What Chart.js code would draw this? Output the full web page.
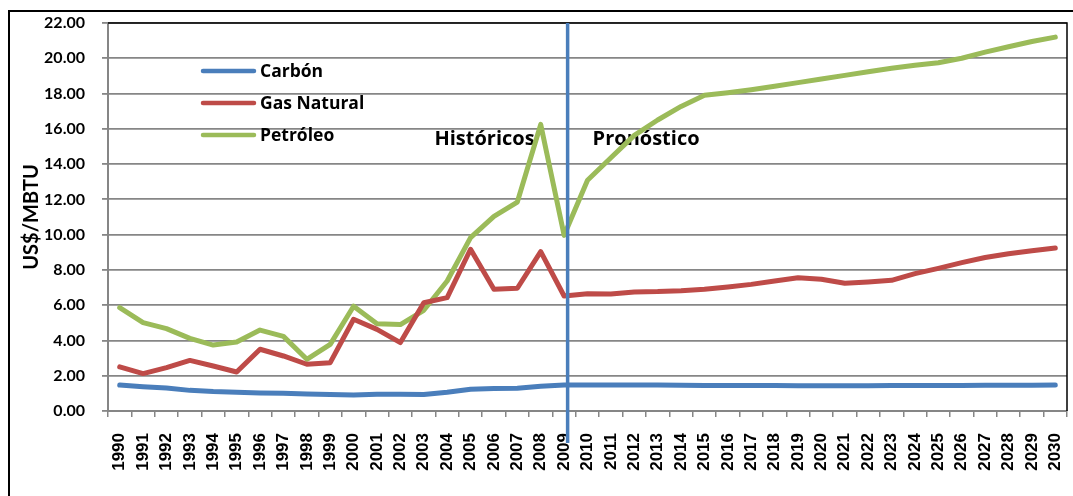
<!DOCTYPE html>
<html lang="es">
<head>
<meta charset="utf-8">
<title>Precios de energéticos US$/MBTU</title>
<script src="https://cdn.jsdelivr.net/npm/chart.js@4.4.1/dist/chart.umd.min.js"></script>
<style>
  html, body { margin: 0; padding: 0; background: #ffffff; }
  #wrap { position: relative; width: 1073px; height: 496px; overflow: hidden; }
  #frame {
    position: absolute; left: 8px; top: 10px; width: 1200px; height: 600px;
    border-top: 2px solid #000; border-left: 2px solid #000; box-sizing: border-box;
  }
  #c { position: absolute; left: 0; top: 0; }
</style>
</head>
<body>
<div id="wrap">
  <div id="frame"></div>
  <canvas id="c" width="1073" height="496"></canvas>
</div>
<script>
// Años (etiquetas del eje X)
const years = ['1990','1991','1992','1993','1994','1995','1996','1997','1998','1999',
  '2000','2001','2002','2003','2004','2005','2006','2007','2008','2009',
  '2010','2011','2012','2013','2014','2015','2016','2017','2018','2019',
  '2020','2021','2022','2023','2024','2025','2026','2027','2028','2029','2030'];

// Precios en US$/MBTU
const carbon = [1.47,1.38,1.30,1.17,1.10,1.06,1.02,1.00,0.96,0.93,
  0.91,0.95,0.95,0.93,1.06,1.23,1.27,1.29,1.40,1.47,
  1.47,1.47,1.47,1.47,1.46,1.45,1.45,1.44,1.44,1.43,
  1.43,1.43,1.43,1.44,1.45,1.45,1.45,1.46,1.46,1.46,1.47];

const gasNatural = [2.50,2.12,2.46,2.87,2.55,2.21,3.50,3.12,2.65,2.74,
  5.20,4.63,3.88,6.14,6.43,9.17,6.90,6.96,9.04,6.52,
  6.65,6.63,6.75,6.77,6.82,6.90,7.03,7.18,7.37,7.56,
  7.47,7.24,7.32,7.41,7.79,8.09,8.41,8.70,8.92,9.09,9.24];

const petroleo = [5.86,5.01,4.67,4.12,3.74,3.91,4.59,4.23,2.93,3.78,
  5.94,4.95,4.90,5.71,7.37,9.83,11.04,11.85,16.25,9.96,
  13.08,14.36,15.63,16.50,17.27,17.90,18.05,18.22,18.41,18.62,
  18.82,19.03,19.24,19.43,19.60,19.75,20.00,20.35,20.65,20.95,21.20];

const seriesNames = ['Carbón', 'Gas Natural', 'Petróleo'];
const seriesColors = ['#4a7ebb', '#be4b48', '#9bbb59'];

// Año que separa datos históricos del pronóstico
const splitYear = '2009';
const periodLabels = ['Históricos', 'Pronóstico'];

const yMax = 22;
const yStep = 2;

const gridGray = '#868686';

// Leyenda dibujada dentro del área del gráfico
const insideLegend = {
  id: 'insideLegend',
  afterDatasetsDraw(chart) {
    const ctx = chart.ctx;
    const x0 = 201, len = 55, gap = 4;
    const rows = [71, 103, 135];
    ctx.save();
    chart.data.datasets.forEach((ds, i) => {
      ctx.strokeStyle = ds.borderColor;
      ctx.lineWidth = 4.5;
      ctx.lineCap = 'round';
      ctx.beginPath();
      ctx.moveTo(x0 + 2, rows[i]);
      ctx.lineTo(x0 + len - 2, rows[i]);
      ctx.stroke();
      ctx.fillStyle = '#000';
      ctx.font = 'bold 17.5px "Open Sans"';
      ctx.textAlign = 'left';
      ctx.textBaseline = 'middle';
      ctx.fillText(ds.label, x0 + len + gap, rows[i] + 1);
    });
    ctx.restore();
  }
};

// Rótulos de periodo (debajo de las líneas)
const periodText = {
  id: 'periodText',
  beforeDatasetsDraw(chart) {
    const ctx = chart.ctx;
    const xs = chart.scales.x, ys = chart.scales.y;
    const xDiv = xs.getPixelForValue(years.indexOf(splitYear) + 0.15);
    const yBase = ys.getPixelForValue(15.1);
    ctx.save();
    ctx.fillStyle = '#000';
    ctx.font = 'bold 20px "Open Sans"';
    ctx.textBaseline = 'alphabetic';
    ctx.textAlign = 'right';
    ctx.fillText(periodLabels[0], xDiv - 33, yBase);
    ctx.textAlign = 'left';
    ctx.fillText(periodLabels[1], xDiv + 25, yBase);
    ctx.restore();
  }
};

// Línea vertical divisoria y borde superior/derecho del área de trazado
const divider = {
  id: 'divider',
  afterDatasetsDraw(chart) {
    const ctx = chart.ctx;
    const a = chart.chartArea;
    const xs = chart.scales.x;
    const xDiv = xs.getPixelForValue(years.indexOf(splitYear) + 0.15);
    ctx.save();
    ctx.strokeStyle = '#000';
    ctx.lineWidth = 1.5;
    ctx.beginPath();
    ctx.moveTo(a.left, a.top);
    ctx.lineTo(a.right, a.top);
    ctx.lineTo(a.right, a.bottom);
    ctx.stroke();
    ctx.strokeStyle = seriesColors[0];
    ctx.lineWidth = 3.5;
    ctx.beginPath();
    ctx.moveTo(xDiv, a.top);
    ctx.lineTo(xDiv, a.bottom + 32);
    ctx.stroke();
    ctx.restore();
  }
};

const lineStyle = {
  borderWidth: 5,
  pointRadius: 0,
  pointHoverRadius: 0,
  tension: 0,
  fill: false,
  borderCapStyle: 'round',
  borderJoinStyle: 'round'
};

new Chart(document.getElementById('c'), {
  type: 'line',
  data: {
    labels: years,
    datasets: [
      Object.assign({ label: seriesNames[0], data: carbon, borderColor: seriesColors[0], backgroundColor: seriesColors[0] }, lineStyle),
      Object.assign({ label: seriesNames[1], data: gasNatural, borderColor: seriesColors[1], backgroundColor: seriesColors[1] }, lineStyle),
      Object.assign({ label: seriesNames[2], data: petroleo, borderColor: seriesColors[2], backgroundColor: seriesColors[2] }, lineStyle)
    ]
  },
  options: {
    responsive: false,
    animation: false,
    devicePixelRatio: 1,
    layout: { padding: { left: 0, top: 23, right: 6, bottom: 0 } },
    plugins: {
      legend: { display: false },
      tooltip: { enabled: false }
    },
    scales: {
      x: {
        type: 'category',
        offset: true,
        grid: {
          display: true,
          drawOnChartArea: false,
          drawTicks: true,
          tickLength: 6,
          color: gridGray,
          lineWidth: 1.5,
          offset: true
        },
        border: { display: true, color: gridGray, width: 2 },
        ticks: {
          autoSkip: false,
          minRotation: 90,
          maxRotation: 90,
          padding: 16,
          color: '#000',
          font: { family: 'Liberation Sans', weight: 'bold', size: 17 }
        },
        afterFit(scale) {
          scale.height = 85;
          scale.paddingLeft = 0;
          scale.paddingRight = 0;
        }
      },
      y: {
        min: 0,
        max: yMax,
        ticks: {
          stepSize: yStep,
          padding: 17,
          color: '#000',
          font: { family: 'Lato', weight: 'bold', size: 16 },
          callback: (v) => Number(v).toFixed(2)
        },
        grid: {
          color: gridGray,
          lineWidth: 1.8,
          tickLength: 6,
          drawTicks: true
        },
        border: { display: true, color: gridGray, width: 2 },
        title: {
          display: true,
          text: 'US$/MBTU',
          color: '#000',
          font: { family: 'Lato', weight: 'bold', size: 20 },
          padding: { top: 20, bottom: 0 }
        },
        afterFit(scale) {
          scale.width = 108;
          scale.paddingTop = 0;
          scale.paddingBottom = 0;
        }
      }
    }
  },
  plugins: [periodText, divider, insideLegend]
});
</script>
</body>
</html>
